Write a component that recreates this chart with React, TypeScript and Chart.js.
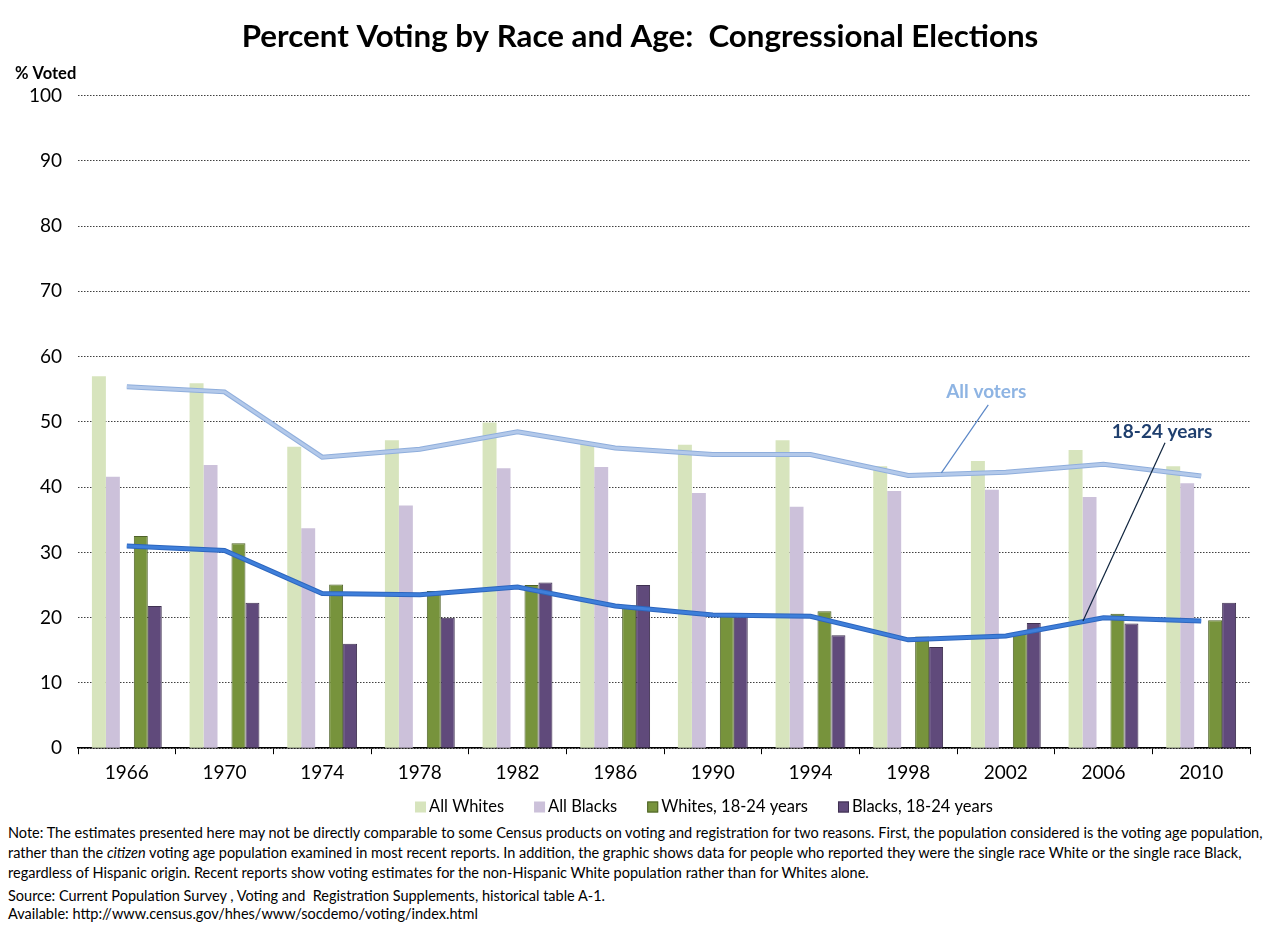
import React, { useEffect, useRef } from "react";
import { Chart, registerables } from "chart.js";

Chart.register(...registerables);

const years = ["1966", "1970", "1974", "1978", "1982", "1986", "1990", "1994", "1998", "2002", "2006", "2010"];
const allWhites = [57.0, 55.9, 46.2, 47.2, 49.9, 46.7, 46.5, 47.2, 43.2, 44.0, 45.7, 43.2];
const allBlacks = [41.6, 43.4, 33.7, 37.2, 42.9, 43.1, 39.1, 37.0, 39.4, 39.6, 38.5, 40.6];
const whites1824 = [32.5, 31.4, 25.1, 24.1, 25.0, 21.9, 20.7, 21.0, 17.1, 17.5, 20.6, 19.6];
const blacks1824 = [21.8, 22.3, 16.0, 20.0, 25.4, 25.0, 20.2, 17.3, 15.5, 19.2, 19.1, 22.3];
const allVoters = [55.4, 54.6, 44.6, 45.8, 48.5, 46.0, 45.0, 45.0, 41.8, 42.3, 43.5, 41.7];
const youngVoters = [31.0, 30.3, 23.7, 23.5, 24.7, 21.8, 20.4, 20.2, 16.6, 17.2, 20.0, 19.5];
const spacer = years.map(() => null);
const barLabels = ["All Whites", "All Blacks", "Whites, 18-24 years", "Blacks, 18-24 years"];

const FONT = "Lato, 'Noto Sans', sans-serif";
const TITLE_SHIFT_X = 15;
const LEGEND = { left: 415, centerY: 807, box: 11, gap: 3, spacing: 30, fontSize: 16.5 };

// Callout labels in data coordinates (category index, percent)
const callouts = [
  { text: "All voters", color: "#8EB4E3", lineColor: "#5B87C7", at: [8.8, 54.6], from: [8.82, 52.6], to: [8.34, 42.2] },
  { text: "18-24 years", color: "#1F3F6E", lineColor: "#0F243E", at: [10.6, 48.5], from: [10.63, 46.8], to: [9.79, 19.5] },
];

const decorPlugin = {
  id: "decor",
  afterLayout(chart: any) {
    const t = chart.titleBlock;
    if (t) {
      t.left += TITLE_SHIFT_X;
      t.right += TITLE_SHIFT_X;
    }
  },
  afterDatasetsDraw(chart: any) {
    const { ctx, scales } = chart;
    const xs = scales.x;
    const ys = scales.y;
    ctx.save();
    for (const c of callouts) {
      ctx.beginPath();
      ctx.strokeStyle = c.lineColor;
      ctx.lineWidth = 1.2;
      ctx.moveTo(xs.getPixelForValue(c.from[0]), ys.getPixelForValue(c.from[1]));
      ctx.lineTo(xs.getPixelForValue(c.to[0]), ys.getPixelForValue(c.to[1]));
      ctx.stroke();
      ctx.font = `bold 19px ${FONT}`;
      ctx.fillStyle = c.color;
      ctx.textAlign = "center";
      ctx.textBaseline = "middle";
      ctx.fillText(c.text, xs.getPixelForValue(c.at[0]), ys.getPixelForValue(c.at[1]));
    }
    ctx.font = `bold 16.5px ${FONT}`;
    ctx.fillStyle = "#000";
    ctx.textAlign = "left";
    ctx.textBaseline = "middle";
    ctx.fillText("% Voted", 15, chart.chartArea.top - 22);
    ctx.restore();
  },
  afterDraw(chart: any) {
    const { ctx } = chart;
    ctx.save();
    ctx.font = `${LEGEND.fontSize}px ${FONT}`;
    ctx.textAlign = "left";
    ctx.textBaseline = "middle";
    let x = LEGEND.left;
    chart.data.datasets.forEach((ds: any) => {
      if (!barLabels.includes(ds.label)) return;
      ctx.fillStyle = ds.backgroundColor;
      ctx.fillRect(x, LEGEND.centerY - LEGEND.box / 2, LEGEND.box, LEGEND.box);
      if (ds.borderWidth) {
        ctx.strokeStyle = ds.borderColor;
        ctx.lineWidth = 1;
        ctx.strokeRect(x + 0.5, LEGEND.centerY - LEGEND.box / 2 + 0.5, LEGEND.box - 1, LEGEND.box - 1);
      }
      x += LEGEND.box + LEGEND.gap;
      ctx.fillStyle = "#000";
      ctx.fillText(ds.label, x, LEGEND.centerY);
      x += ctx.measureText(ds.label).width + LEGEND.spacing;
    });
    ctx.restore();
  },
};

export default function App() {
  const ref = useRef<HTMLCanvasElement | null>(null);

  useEffect(() => {
    if (!ref.current) return;
    const line = (label: string, data: number[], color: string, width: number, order: number) =>
      ({ type: "line", label, data, borderColor: color, borderWidth: width, pointRadius: 0, tension: 0, order } as any);
    const chart = new Chart(ref.current, {
      type: "bar",
      data: {
        labels: years,
        datasets: [
          line("All voters", allVoters, "#B3C9EA", 3, 0),
          line("All voters edge", allVoters, "#8FAEDC", 5, 0.5),
          line("18-24 years", youngVoters, "#3F7FDA", 3, 0),
          line("18-24 years edge", youngVoters, "#2D66BE", 5, 0.5),
          { label: "All Whites", data: allWhites, backgroundColor: "#D7E4BD", borderWidth: 0, order: 1 },
          { label: "All Blacks", data: allBlacks, backgroundColor: "#CCC1DA", borderWidth: 0, order: 1 },
          { label: "", data: spacer, backgroundColor: "rgba(0,0,0,0)", order: 1 },
          { label: "Whites, 18-24 years", data: whites1824, backgroundColor: "#77933C", borderColor: "#4F6228", borderWidth: 1, order: 1 },
          { label: "Blacks, 18-24 years", data: blacks1824, backgroundColor: "#604A7B", borderColor: "#3F3151", borderWidth: 1, order: 1 },
        ],
      },
      options: {
        animation: false,
        responsive: true,
        maintainAspectRatio: false,
        datasets: { bar: { categoryPercentage: 0.715, barPercentage: 1.0 } },
        layout: { padding: { left: 0, right: 30, top: 0, bottom: 29 } },
        plugins: {
          title: {
            display: true,
            text: "Percent Voting by Race and Age:  Congressional Elections",
            color: "#000",
            font: { family: FONT, size: 31.3, weight: "bold" },
            padding: { top: 18, bottom: 40 },
          },
          legend: { display: false },
          tooltip: { enabled: false },
        },
        scales: {
          x: {
            grid: { display: true, drawOnChartArea: false, drawTicks: true, tickLength: 6, color: "#000", offset: true },
            border: { display: true, color: "#000", width: 1.5 },
            ticks: { color: "#000", font: { family: FONT, size: 19 }, padding: 7 },
          },
          y: {
            min: 0,
            max: 100,
            afterFit: (scale: any) => {
              scale.width = 78;
            },
            ticks: { stepSize: 10, color: "#000", font: { family: FONT, size: 19 }, padding: 16 },
            grid: { color: "#404040", lineWidth: 1, drawTicks: false },
            border: { display: false, dash: [1.5, 1.5] },
          },
        },
      },
      plugins: [decorPlugin],
    } as any);
    return () => chart.destroy();
  }, []);

  const noteStyle: React.CSSProperties = { whiteSpace: "nowrap", height: 20, lineHeight: "20px" };
  return (
    <div style={{ position: "fixed", left: 0, top: 0, width: 1280, height: 930, background: "#fff", fontFamily: FONT }}>
      <div style={{ position: "absolute", left: 0, top: 0, width: 1280, height: 820 }}>
        <canvas ref={ref} />
      </div>
      <div style={{ position: "absolute", left: 8, top: 823, fontSize: 14.5, color: "#000" }}>
        <div style={noteStyle}>
          Note: The estimates presented here may not be directly comparable to some Census products on voting and registration for two reasons. First, the population considered is the voting age population,
        </div>
        <div style={noteStyle}>
          rather than the <i>citizen</i> voting age population examined in most recent reports. In addition, the graphic shows data for people who reported they were the single race White or the single race Black,
        </div>
        <div style={noteStyle}>
          regardless of Hispanic origin. Recent reports show voting estimates for the non-Hispanic White population rather than for Whites alone.
        </div>
        <div style={{ ...noteStyle, marginTop: 4, height: 18, lineHeight: "18px" }}>
          Source: Current Population Survey , Voting and&nbsp; Registration Supplements, historical table A-1.
        </div>
        <div style={{ ...noteStyle, height: 18, lineHeight: "18px" }}>Available: http://www.census.gov/hhes/www/socdemo/voting/index.html</div>
      </div>
    </div>
  );
}
